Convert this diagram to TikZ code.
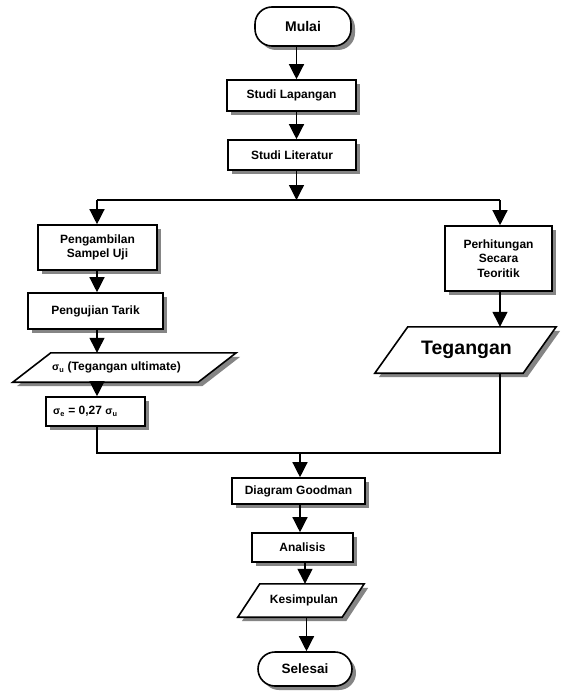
\documentclass[tikz,border=0pt]{standalone}
\usepackage{fontspec}
\setmainfont{Liberation Sans}
\usetikzlibrary{arrows.meta,calc,shadows}
\newcommand\paral[2]{%
  \fill[black!48] ($(#1.north west)+(#2+4,4)$) -- ($(#1.north east)+(#2+4,4)$) -- ($(#1.south east)+(-#2+4,4)$) -- ($(#1.south west)+(-#2+4,4)$) -- cycle;
  \draw[line width=1.6pt, fill=white] ($(#1.north west)+(#2,0)$) -- ($(#1.north east)+(#2,0)$) -- ($(#1.south east)+(-#2,0)$) -- ($(#1.south west)+(-#2,0)$) -- cycle;
}
\newcommand\sig[1]{{\fontsize{10.5}{10.5}\selectfont σ\textsubscript{#1}}}
\begin{document}
\begin{tikzpicture}[x=1pt,y=-1pt,
  lbl/.style={inner sep=0pt, align=center, font=\fontsize{12}{14.5}\selectfont\bfseries},
  box/.style={lbl, draw, line width=1.6pt, fill=white,
    drop shadow={shadow xshift=4pt, shadow yshift=-4pt, fill=black!48, opacity=1}},
  term/.style={box, rounded corners=17pt, font=\fontsize{14}{16}\selectfont\bfseries},
  pshape/.style={inner sep=0pt},
  arr/.style={line width=1.3pt, -{Triangle[length=15pt,width=15pt]}},
  ln/.style={line width=1.3pt},
]
\fill[white] (0,0) rectangle (560,695);
\useasboundingbox (0,0) rectangle (560,695);

% x positions of vertical connectors
\coordinate (xa) at (296.5,0);
\coordinate (xl) at (97,0);
\coordinate (xr) at (500,0);
\coordinate (xb) at (300,0);
\coordinate (xc) at (305,0);
\coordinate (xd) at (306.5,0);
\coordinate (jt) at (296.5,200);
\coordinate (jl) at (97,453);
\coordinate (jr) at (500,453);
\coordinate (jb) at (300,453);

% nodes
\node[term, minimum width=96, minimum height=39] (mulai) at (303,26.5) {Mulai};
\node[box, minimum width=129, minimum height=31] (lap) at (291.5,95.5) {Studi Lapangan};
\node[box, minimum width=128, minimum height=30] (lit) at (292,155) {Studi Literatur};
\node[box, minimum width=119, minimum height=45] (peng) at (97.5,247.5) {Pengambilan\\Sampel Uji};
\node[box, minimum width=135, minimum height=36] (uji) at (95.5,311) {Pengujian Tarik};

\node[pshape, minimum width=185, minimum height=29] (su) at (124.5,367.5) {};
\paral{su}{19}
\node[lbl] (sut) at (116.5,367.5) {\sig{u} (Tegangan ultimate)};

\node[box, minimum width=99, minimum height=29] (se) at (95.5,411.5) {};
\node[lbl, anchor=west] (set) at (53,411.5) {\sig{e} = 0,27 \sig{u}};

\node[box, minimum width=107, minimum height=65] (perh) at (498.5,258.5) {Perhitungan\\Secara\\Teoritik};

\node[pshape, minimum width=148, minimum height=46] (teg) at (465.5,350) {};
\paral{teg}{16.5}
\node[lbl, font=\fontsize{19.5}{22}\selectfont\bfseries] (tegt) at (466.5,350) {Tegangan};

\node[box, minimum width=133, minimum height=26] (dg) at (298.5,491) {Diagram Goodman};
\node[box, minimum width=101, minimum height=29] (ana) at (302.5,547.5) {Analisis};

\node[pshape, minimum width=104, minimum height=33] (kes) at (301,600.5) {};
\paral{kes}{11}
\node[lbl] (kest) at (304,600.5) {Kesimpulan};

\node[term, minimum width=94, minimum height=34, font=\fontsize{13.5}{16}\selectfont\bfseries] (sel) at (305,669) {Selesai};

% connectors
\draw[arr] (mulai.south -| xa) -- (lap.north -| xa);
\draw[arr] (lap.south -| xa) -- (lit.north -| xa);
\draw[arr] (lit.south -| xa) -- (jt);
\draw[ln] (jt -| xl) -- (jt -| xr);
\draw[arr] (jt -| xl) -- (peng.north -| xl);
\draw[arr] (jt -| xr) -- (perh.north -| xr);
\draw[arr] (peng.south -| xl) -- (uji.north -| xl);
\draw[arr] (uji.south -| xl) -- (su.north -| xl);
\draw[arr] (su.south -| xl) -- (se.north -| xl);
\draw[arr] (perh.south -| xr) -- (teg.north -| xr);
\draw[ln] (se.south -| xl) -- (jl) -- (jr) -- (teg.south -| xr);
\draw[arr] (jb) -- (dg.north -| xb);
\draw[arr] (dg.south -| xb) -- (ana.north -| xb);
\draw[arr] (ana.south -| xc) -- (kes.north -| xc);
\draw[arr] (kes.south -| xd) -- (sel.north -| xd);
\end{tikzpicture}
\end{document}
